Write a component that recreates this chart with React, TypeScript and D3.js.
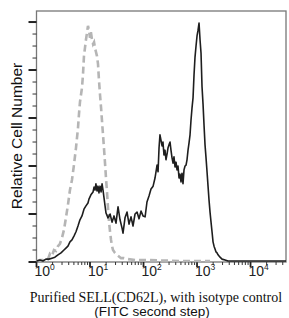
import React from "react";
import * as d3 from "d3";

// Fluorescence intensity (FITC) and relative cell number
const sellIntensity = [
  1.02, 1.16, 1.32, 1.5, 1.71, 1.95, 2.21, 2.52, 2.87, 3.26, 3.55, 3.87, 4.22, 4.6, 5.01, 5.47, 5.96, 6.49,
  7.08, 7.71, 8.4, 9.16, 9.56, 10.4, 11.4, 11.9, 12.4, 12.9, 13.5, 14.1, 14.7, 15.4, 16.1, 16.8, 17.5, 18.3,
  19.1, 19.9, 21.7, 23.7, 25.8, 28.1, 30.6, 33.4, 36.4, 39.6, 41.4, 45.1, 49.2, 53.6, 58.4, 63.6, 69.4, 75.6,
  82.4, 89.8, 97.9, 107, 116, 127, 138, 151, 164, 179, 187, 195, 203, 212, 222, 231, 241, 252, 263, 275, 287,
  299, 313, 326, 341, 356, 371, 388, 405, 423, 441, 461, 481, 502, 524, 547, 571, 597, 623, 650, 679, 709, 740,
  772, 806, 842, 879, 917, 958, 1000, 1044, 1090, 1138, 1188, 1240, 1295, 1352, 1411, 1473, 1538, 1606, 1676,
  1750, 1827, 1907, 1991, 2079, 2170, 2265, 2365, 2469, 2691, 2933, 3334, 3797, 6364, 15060, 46000,
];
const sellCount = [
  0.02, 0.04, 0.02, 0.06, 0.06, 0.08, 0.1, 0.15, 0.19, 0.25, 0.29, 0.33, 0.42, 0.46, 0.54, 0.63, 0.75, 0.88,
  0.96, 1.1, 1.17, 1.23, 1.31, 1.4, 1.46, 1.56, 1.5, 1.63, 1.48, 1.58, 1.44, 1.58, 1.46, 1.63, 1.5, 1.33,
  1.17, 1.02, 0.92, 1.0, 0.83, 0.96, 0.81, 1.15, 0.88, 0.71, 0.6, 0.92, 1.04, 0.79, 0.94, 0.75, 1.0, 1.04,
  0.9, 1.06, 0.96, 0.94, 1.25, 1.38, 1.52, 1.58, 1.75, 2.02, 1.88, 2.38, 2.65, 2.54, 2.42, 2.5, 2.23, 2.33,
  2.13, 2.25, 2.38, 2.44, 2.5, 2.33, 2.17, 2.06, 2.19, 1.98, 2.08, 1.92, 2.0, 1.75, 1.83, 1.67, 1.85, 1.63,
  1.92, 2.0, 2.02, 2.13, 2.33, 2.48, 2.65, 2.96, 3.21, 3.42, 3.9, 4.27, 4.5, 4.71, 4.83, 4.98, 4.63, 4.35,
  3.65, 3.29, 2.85, 2.44, 2.17, 1.88, 1.58, 1.29, 1.04, 0.83, 0.63, 0.42, 0.33, 0.27, 0.21, 0.19, 0.15, 0.1,
  0.06, 0.04, 0.02, 0.02, 0.02, 0.02,
];

const isotypeIntensity = [
  1.02, 1.16, 1.32, 1.5, 1.64, 1.78, 1.95, 2.12, 2.31, 2.52, 2.74, 2.99, 3.26, 3.55, 3.87, 4.22, 4.6, 5.01,
  5.47, 5.96, 6.22, 6.49, 7.08, 7.39, 7.71, 8.05, 8.4, 8.77, 9.16, 9.56, 10.0, 10.4, 10.9, 11.4, 11.9, 12.4,
  12.9, 13.5, 14.1, 14.7, 15.4, 16.1, 16.8, 17.5, 18.3, 19.1, 19.9, 20.8, 21.7, 22.7, 23.7, 24.7, 25.8, 26.9,
  29.3, 33.4, 38.0, 43.2, 51.3, 69.4, 132, 481, 1750,
];
const isotypeCount = [
  0.02, 0.04, 0.04, 0.08, 0.06, 0.17, 0.13, 0.25, 0.23, 0.33, 0.38, 0.5, 0.67, 0.92, 1.19, 1.5, 1.71, 2.02,
  2.38, 2.79, 3.08, 3.33, 3.63, 3.9, 4.29, 4.46, 4.63, 4.77, 4.92, 4.83, 4.67, 4.79, 4.63, 4.54, 4.58, 4.46,
  4.38, 4.29, 4.13, 3.79, 3.48, 3.21, 2.92, 2.65, 2.35, 2.05, 1.75, 1.45, 1.12, 0.83, 0.63, 0.46, 0.33, 0.25,
  0.19, 0.13, 0.08, 0.08, 0.06, 0.04, 0.04, 0.02, 0.02,
];

const decadeLabels = ["0", "1", "2", "3", "4"];
const yMajorTicks = [0, 1, 2, 3, 4, 5];

const W = 289;
const H = 318;
const left = 36.5;
const right = 286;
const top = 11;
const bottom = 262;

export default function App() {
  const x = d3.scaleLog().domain([1, 46000]).range([left, right]);
  const y = d3.scaleLinear().domain([0, 5.23]).range([bottom, top]);

  const line = d3
    .line<[number, number]>()
    .x((d) => x(d[0]))
    .y((d) => y(d[1]));

  const sell = sellIntensity.map((v, i) => [v, sellCount[i]] as [number, number]);
  const iso = isotypeIntensity.map((v, i) => [v, isotypeCount[i]] as [number, number]);

  // minor ticks: 2..9 of every decade inside the domain
  const xMinor: number[] = [];
  for (let k = 0; k < 5; k++) {
    for (let m = 2; m <= 9; m++) {
      const v = m * Math.pow(10, k);
      if (v < 46000) xMinor.push(v);
    }
  }
  const yMinor: number[] = [];
  for (let t = 0; t < 5; t++) {
    [0.25, 0.5, 0.75].forEach((f) => yMinor.push(t + f));
  }

  return (
    <svg
      width={W}
      height={H}
      style={{ position: "absolute", left: 0, top: 0, background: "#fff" }}
    >
      <rect x={left} y={top} width={right - left} height={bottom - top} fill="none" stroke="#777" strokeWidth={1.3} />

      {/* y ticks */}
      {yMinor.map((t) => (
        <line key={"ym" + t} x1={left - 4} x2={left} y1={y(t)} y2={y(t)} stroke="#333" strokeWidth={1} />
      ))}
      {yMajorTicks.map((t) => (
        <line key={"yM" + t} x1={left - 8} x2={left} y1={y(t)} y2={y(t)} stroke="#222" strokeWidth={2} />
      ))}

      {/* x ticks */}
      {xMinor.map((v) => (
        <line key={"xm" + v} x1={x(v)} x2={x(v)} y1={bottom} y2={bottom + 3} stroke="#333" strokeWidth={1} />
      ))}
      {decadeLabels.map((d, i) => (
        <g key={"xM" + d}>
          <line x1={x(Math.pow(10, i))} x2={x(Math.pow(10, i))} y1={bottom} y2={bottom + 5} stroke="#222" strokeWidth={1.8} />
          <text x={x(Math.pow(10, i)) - 2} y={275.5} fontFamily="Liberation Sans, Arial, sans-serif" fontSize={14} fill="#222">
            10
            <tspan fontSize={8.5} dy={-5.5}>
              {d}
            </tspan>
          </text>
        </g>
      ))}

      <path d={line(iso) || ""} fill="none" stroke="#b5b5b5" strokeWidth={2.6} strokeDasharray="7,4" />
      <path d={line(sell) || ""} fill="none" stroke="#1e1e1e" strokeWidth={1.6} strokeLinejoin="round" />

      <text
        transform="translate(22,136) rotate(-90)"
        textAnchor="middle"
        fontFamily="Liberation Sans, Arial, sans-serif"
        fontSize={15.5}
        fill="#111"
      >
        Relative Cell Number
      </text>
      <text x={156} y={301.5} textAnchor="middle" fontFamily="Liberation Serif, Times New Roman, serif" fontSize={14} fill="#111">
        Purified SELL(CD62L), with isotype control
      </text>
      <text x={152} y={315.5} textAnchor="middle" fontFamily="Liberation Sans, Arial, sans-serif" fontSize={13.5} fill="#111">
        (FITC second step)
      </text>
    </svg>
  );
}
